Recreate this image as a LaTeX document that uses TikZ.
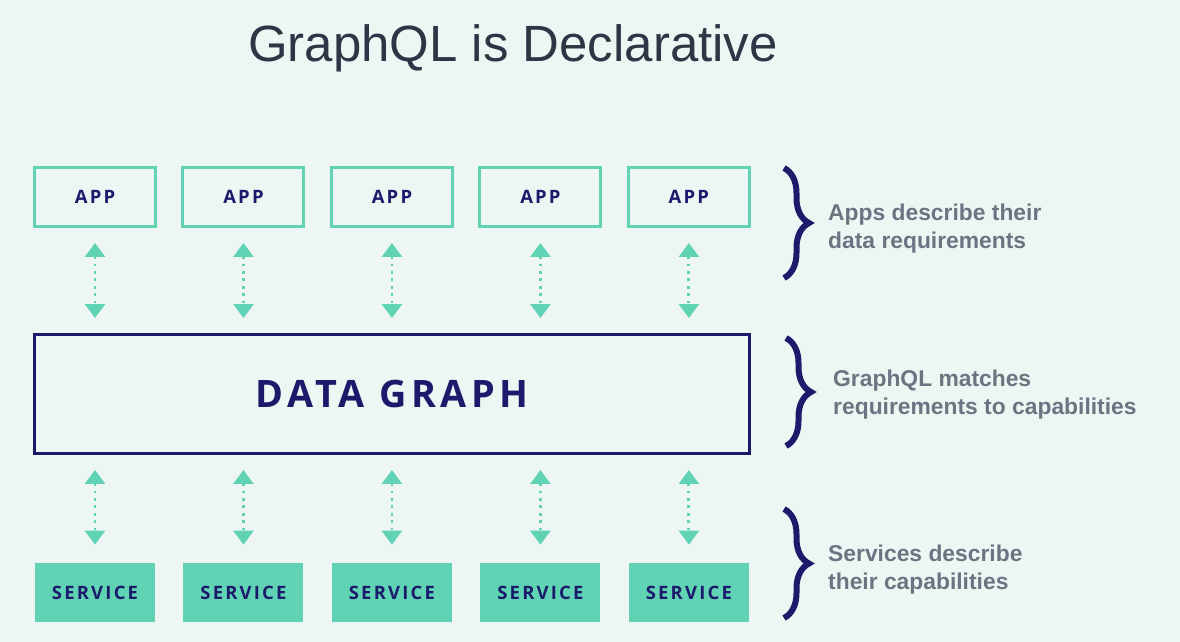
\documentclass[tikz,border=0pt]{standalone}
\usepackage{fontspec}
\setmainfont{Liberation Sans}
\newfontfamily\boxfont[LetterSpace=12]{Open Sans}
\usetikzlibrary{arrows.meta,positioning,decorations.pathreplacing}
\definecolor{bgmint}{HTML}{EEF6F4}
\definecolor{appteal}{HTML}{5FD3B4}
\definecolor{navy}{HTML}{1B1A6B}
\definecolor{titlegrey}{HTML}{2E3646}
\definecolor{notegrey}{HTML}{6A7582}

\begin{document}
\begin{tikzpicture}[
    x=0.02cm,y=-0.02cm,
    node distance=0.49cm,
    app/.style={rectangle,draw=appteal,line width=0.06cm,minimum width=2.42cm,
                minimum height=1.18cm,text=navy,font=\boxfont\bfseries\fontsize{10.5}{12}\selectfont},
    svc/.style={rectangle,fill=appteal,minimum width=2.4cm,minimum height=1.18cm,
                text=navy,font=\boxfont\bfseries\fontsize{10.5}{12}\selectfont},
    hub/.style={rectangle,draw=navy,line width=0.06cm,minimum width=14.3cm,
                minimum height=2.38cm,text=navy,font=\boxfont\bfseries\fontsize{21.5}{25}\selectfont},
    link/.style={appteal,line width=1.6pt,dash pattern=on 1.6pt off 2.6pt,
                 {Triangle[width=0.4cm,length=0.28cm]}-{Triangle[width=0.4cm,length=0.28cm]}},
    curly/.style={navy,line width=0.12cm,decorate,decoration={brace,amplitude=0.5cm}},
    note/.style={anchor=west,align=left,text=notegrey,font=\bfseries\fontsize{13}{16}\selectfont}
  ]
    \fill[bgmint] (0,0) rectangle (1180,642);
    \useasboundingbox (0,0) rectangle (1180,642);

    \node[text=titlegrey,font=\fontsize{29}{34}\selectfont] (title) at (513,48) {GraphQL is Declarative};

    % apps on top
    \node[app] (app1) at (95,197) {APP};
    \foreach \i [count=\j from 2] in {1,...,4}
      \node[app,right=of app\i] (app\j) {APP};

    \node[hub] (graph) at (392,394) {DATA GRAPH};

    % services below
    \foreach \i in {1,...,5}
      \path (app\i) ++(0,395.5) node[svc] (svc\i) {SERVICE};

    \foreach \i in {1,...,5} {
      \draw[link,shorten <=0.3cm,shorten >=0.3cm] (app\i.south) -- (app\i.south |- graph.north);
      \draw[link,shorten <=0.3cm,shorten >=0.36cm] (graph.south -| svc\i.north) -- (svc\i.north);
    }

    % braces and notes
    \draw[curly] (784,168) -- (784,278);
    \draw[curly] (786,338) -- (786,446);
    \draw[curly] (784,509) -- (784,618);
    \node[note] (need) at (822,229) {Apps describe their\\data requirements};
    \node[note] (match) at (827,395) {GraphQL matches\\requirements to capabilities};
    \node[note] (offer) at (822,570) {Services describe\\their capabilities};
  \end{tikzpicture}
\end{document}
